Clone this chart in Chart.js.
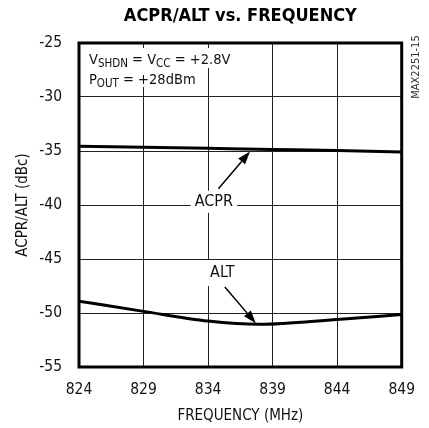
<!DOCTYPE html>
<html>
<head>
<meta charset="utf-8">
<script src="https://cdn.jsdelivr.net/npm/chart.js@4.4.1/dist/chart.umd.min.js"></script>
<style>
  html, body { margin: 0; padding: 0; background: #fff; }
  #wrap { width: 429px; height: 428px; }
</style>
</head>
<body>
<div id="wrap"><canvas id="c" width="429" height="428"></canvas></div>
<script>
const FONT = "'Liberation Sans Narrow', 'DejaVu Sans Condensed', sans-serif";

// =================== DATA ===================
const freqTicks = [824, 829, 834, 839, 844, 849];
const yTicks = [-25, -30, -35, -40, -45, -50, -55];
const acprFreq = [824, 829, 834, 839, 844, 849];
const acprValues = [-34.55, -34.65, -34.75, -34.85, -34.95, -35.1];
const altFreq = [824, 829, 834, 838, 844, 849];
const altValues = [-48.9, -49.85, -50.75, -51.05, -50.6, -50.15];

function toPoints(xs, ys) {
  return xs.map((x, i) => ({ x: x, y: ys[i] }));
}

// =================== HELPERS ===================
function drawArrow(ctx, x1, y1, x2, y2) {
  const ang = Math.atan2(y2 - y1, x2 - x1);
  const len = 13, half = 4.5;
  const bx = x2 - len * Math.cos(ang), by = y2 - len * Math.sin(ang);
  ctx.strokeStyle = '#000';
  ctx.lineWidth = 1.5;
  ctx.beginPath();
  ctx.moveTo(x1, y1);
  ctx.lineTo(bx, by);
  ctx.stroke();
  ctx.fillStyle = '#000';
  ctx.beginPath();
  ctx.moveTo(x2, y2);
  ctx.lineTo(bx + half * Math.sin(ang), by - half * Math.cos(ang));
  ctx.lineTo(bx - half * Math.sin(ang), by + half * Math.cos(ang));
  ctx.closePath();
  ctx.fill();
}

// parts: [text, isSub]
function drawRich(ctx, parts, x, y, size, subSize) {
  ctx.textBaseline = 'alphabetic';
  ctx.textAlign = 'left';
  ctx.fillStyle = '#111';
  let cx = x;
  parts.forEach(([t, sub]) => {
    ctx.font = (sub ? subSize : size) + 'px ' + FONT;
    ctx.fillText(t, cx, sub ? y + 2.5 : y);
    cx += ctx.measureText(t).width;
  });
  return cx;
}

function labelBox(ctx, text, cx, cy, size, padX, padY) {
  ctx.font = size + 'px ' + FONT;
  const w = ctx.measureText(text).width;
  ctx.fillStyle = '#fff';
  ctx.fillRect(cx - w / 2 - padX, cy - size / 2 - padY, w + padX * 2, size + padY * 2);
  ctx.fillStyle = '#111';
  ctx.textAlign = 'center';
  ctx.textBaseline = 'middle';
  ctx.fillText(text, cx, cy);
}

// =================== ANNOTATIONS ===================
const annotations = {
  id: 'annotations',
  afterDatasetsDraw(chart) {
    const ctx = chart.ctx;
    const xs = chart.scales.x, ys = chart.scales.y;
    const a = chart.chartArea;
    ctx.save();

    // condition text top left
    ctx.fillStyle = '#fff';
    ctx.fillRect(a.left + 6, a.top + 5, 142, 20);
    ctx.fillRect(a.left + 6, a.top + 25, 108, 19);
    drawRich(ctx, [['V', false], ['SHDN', true], [' = V', false], ['CC', true], [' = +2.8V', false]], a.left + 10, a.top + 21, 14.5, 11.5);
    drawRich(ctx, [['P', false], ['OUT', true], [' = +28dBm', false]], a.left + 10, a.top + 41, 14.5, 11.5);

    // ACPR label and arrow
    labelBox(ctx, 'ACPR', xs.getPixelForValue(834.45), ys.getPixelForValue(-39.7), 16, 4, 3);
    drawArrow(ctx, xs.getPixelForValue(834.8), ys.getPixelForValue(-38.5),
      xs.getPixelForValue(837.25), ys.getPixelForValue(-35.05));

    // ALT label and arrow
    labelBox(ctx, 'ALT', xs.getPixelForValue(835.1), ys.getPixelForValue(-46.3), 16, 5, 5);
    drawArrow(ctx, xs.getPixelForValue(835.3), ys.getPixelForValue(-47.6),
      xs.getPixelForValue(837.7), ys.getPixelForValue(-50.95));

    // frame
    ctx.strokeStyle = '#000';
    ctx.lineWidth = 3;
    ctx.strokeRect(a.left, a.top, a.right - a.left, a.bottom - a.top);

    // part number
    ctx.translate(a.right + 14, a.top + 24);
    ctx.rotate(-Math.PI / 2);
    ctx.font = '11px ' + FONT;
    ctx.fillStyle = '#333';
    ctx.textAlign = 'center';
    ctx.textBaseline = 'middle';
    ctx.fillText('MAX2251-15', 0, 0);
    ctx.restore();
  }
};

// =================== CHART ===================
new Chart(document.getElementById('c'), {
  type: 'line',
  data: {
    datasets: [
      { label: 'ACPR', data: toPoints(acprFreq, acprValues), borderColor: '#000', borderWidth: 3, pointRadius: 0, cubicInterpolationMode: 'monotone' },
      { label: 'ALT', data: toPoints(altFreq, altValues), borderColor: '#000', borderWidth: 3, pointRadius: 0, cubicInterpolationMode: 'monotone' }
    ]
  },
  options: {
    responsive: false,
    animation: false,
    layout: { padding: { left: 0, right: 25, top: 0, bottom: 0 } },
    plugins: {
      legend: { display: false },
      tooltip: { enabled: false },
      title: {
        display: true,
        text: 'ACPR/ALT vs. FREQUENCY',
        fullSize: false,
        color: '#000',
        font: { family: FONT, size: 18, weight: 'bold' },
        padding: { top: 6, bottom: 15.4 }
      }
    },
    scales: {
      x: {
        type: 'linear',
        min: 824,
        max: 849,
        afterBuildTicks: s => { s.ticks = freqTicks.map(v => ({ value: v })); },
        afterFit: s => { s.height = 61; },
        grid: { color: '#222', lineWidth: 1, drawTicks: false },
        border: { display: false },
        ticks: { font: { family: FONT, size: 15.5 }, color: '#111', padding: 14, maxRotation: 0 },
        title: { display: true, text: 'FREQUENCY (MHz)', color: '#111', font: { family: FONT, size: 15 }, padding: { top: 0, bottom: 3 } }
      },
      y: {
        min: -55,
        max: -25,
        afterBuildTicks: s => { s.ticks = yTicks.map(v => ({ value: v })); },
        afterFit: s => { s.width = 79; },
        grid: { color: '#222', lineWidth: 1, drawTicks: false },
        border: { display: false },
        ticks: { font: { family: FONT, size: 15.5 }, color: '#111', padding: 17 },
        title: { display: true, text: 'ACPR/ALT (dBc)', color: '#111', font: { family: FONT, size: 15 }, padding: { top: 14, bottom: 0 } }
      }
    }
  },
  plugins: [annotations]
});
</script>
</body>
</html>
